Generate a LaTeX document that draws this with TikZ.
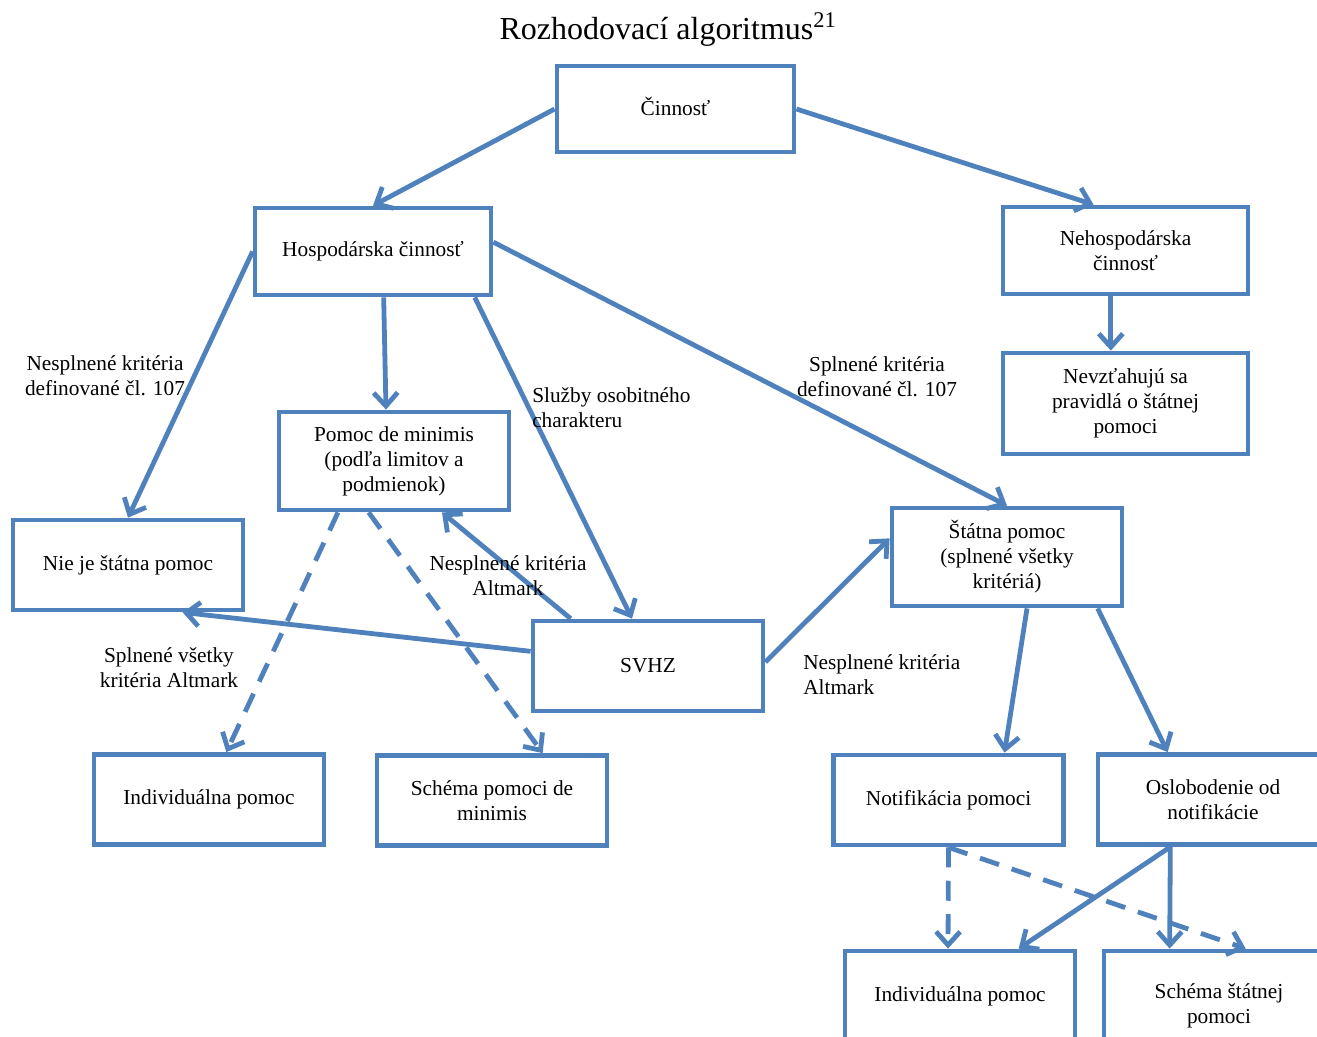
\documentclass[tikz,border=0pt]{standalone}
\usepackage{fontspec}
\setmainfont{Liberation Serif}
\usepackage{xcolor}
\usetikzlibrary{arrows.meta,positioning}
\definecolor{boxblue}{RGB}{79,129,189}
\tikzset{
  box/.style={draw=boxblue,line width=3.6pt,minimum width=172.5pt,minimum height=67.5pt,
    align=center,inner sep=0.75pt,font=\fontsize{16}{18.75}\selectfont},
  conn/.style={draw=boxblue,line width=3.6pt,-{Straight Barb[length=10pt,width=18pt]}},
  dconn/.style={conn,dash pattern=on 15pt off 10pt},
  lbl/.style={inner sep=0.75pt,font=\fontsize{16}{18.75}\selectfont}
}

\begin{document}
\begin{tikzpicture}[x=0.75pt,y=0.75pt,yscale=-1,xscale=1]
		\useasboundingbox (0,0) rectangle (1317,1036);
		\clip (0,0) rectangle (1317,1036);
		
		% Title
		\node (title) at (668,30) [inner sep=0.75pt,font=\fontsize{24}{28}\selectfont] {Rozhodovací algoritmus\textsuperscript{21}};
		
		%Shape: Rectangle [id:cinn] 
		\node (cinn) at (675.5,109) [box,minimum width=177.75pt,minimum height=64.5pt] {\raisebox{4pt}{Činnosť}};
		%Shape: Rectangle [id:hosp] 
		\node (hosp) at (373,251.5) [box,minimum width=177pt,minimum height=65.25pt] {\raisebox{3pt}{Hospodárska činnosť}};
		%Shape: Rectangle [id:nehosp] 
		\node (nehosp) at (1125.5,250.5) [box,minimum width=183.75pt,minimum height=65.25pt] {Nehospodárska\\činnosť};
		%Shape: Rectangle [id:nevz] 
		\node (nevz) at (1125.5,403.5) [box,minimum width=183.75pt,minimum height=75.75pt] {Nevzťahujú sa\\pravidlá o štátnej\\pomoci};
		%Shape: Rectangle [id:demin] 
		\node (demin) at (394,461) [box,minimum height=73.5pt] {Pomoc de minimis\\(podľa limitov a\\podmienok)};
		%Shape: Rectangle [id:nie] 
		\node (nie) at (128,565) [box] {Nie je štátna pomoc};
		%Shape: Rectangle [id:svhz] 
		\node (svhz) at (648,666) [box] {SVHZ};
		%Shape: Rectangle [id:statna] 
		\node (statna) at (1007,557) [box,minimum height=73.5pt] {Štátna pomoc\\(splnené všetky\\kritériá)};
		%Shape: Rectangle [id:indl] 
		\node (indl) at (209,799.5) [box] {Individuálna pomoc};
		%Shape: Rectangle [id:schdm] 
		\node (schdm) at (492,800.5) [box] {Schéma pomoci de\\minimis};
		%Shape: Rectangle [id:notif] 
		\node (notif) at (948.5,800) [box] {Notifikácia pomoci};
		%Shape: Rectangle [id:oslob] 
		\node (oslob) at (1213,799.5) [box] {Oslobodenie od\\notifikácie};
		%Shape: Rectangle [id:indr] 
		\node (indr) at (960,996) [box] {Individuálna pomoc};
		%Shape: Rectangle [id:schst] 
		\node (schst) at (1219,1006) [box,minimum height=82.5pt] {Schéma štátnej\\pomoci};
		
		%Straight Lines 
		\draw [conn] (cinn.west) -- (hosp.north);
		\draw [conn] (cinn.east) -- ([xshift=-24pt]nehosp.north);
		\draw [conn] (hosp.west) -- (nie.north);
		\draw [conn] ([xshift=8pt]hosp.south) -- ([xshift=-6pt]demin.north);
		\draw [conn] ([xshift=-14pt]hosp.south east) -- ([xshift=-12pt]svhz.north);
		\draw [conn] ([yshift=-7pt]hosp.east) -- (statna.north);
		\draw [conn] ([xshift=-11pt]nehosp.south) -- ([xshift=-11pt]nevz.north);
		\draw [conn] ([xshift=-58pt]svhz.north) -- ([xshift=36pt]demin.south);
		\draw [conn] ([yshift=-11pt]svhz.west) -- ([xshift=41pt]nie.south);
		\draw [conn] ([yshift=-3pt]svhz.east) -- ([yshift=-14pt]statna.west);
		\draw [dconn] ([xshift=-42pt]demin.south) -- ([xshift=13pt]indl.north);
		\draw [dconn] ([xshift=-19pt]demin.south) -- ([xshift=38pt]schdm.north);
		\draw [conn] ([xshift=15pt]statna.south) -- ([xshift=42pt]notif.north);
		\draw [conn] ([xshift=68pt]statna.south) -- ([xshift=-34pt]oslob.north);
		\draw [dconn] (notif.south) -- ([xshift=-9pt]indr.north);
		\draw [dconn] (notif.south) -- ([xshift=20pt]schst.north);
		\draw [conn] ([xshift=-32pt]oslob.south) -- ([xshift=44pt]indr.north);
		\draw [conn] ([xshift=-32pt]oslob.south) -- ([xshift=-37pt]schst.north);
		
		% Text Node
		\node (l107n) at (105,376) [lbl,align=center] {Nesplnené kritéria\\definované čl. 107};
		% Text Node
		\node (lsluz) at (531,408) [lbl,anchor=west,align=left] {Služby osobitného\\charakteru};
		% Text Node
		\node (l107s) at (877,377) [lbl,align=center] {Splnené kritéria\\definované čl. 107};
		% Text Node
		\node (lnalt) at (508,576) [lbl,align=center] {Nesplnené kritéria\\Altmark};
		% Text Node
		\node (lsalt) at (169,668) [lbl,align=center] {Splnené všetky\\kritéria Altmark};
		% Text Node
		\node (lnalt2) at (802,675) [lbl,anchor=west,align=left] {Nesplnené kritéria\\Altmark};
		
\end{tikzpicture}
\end{document}
